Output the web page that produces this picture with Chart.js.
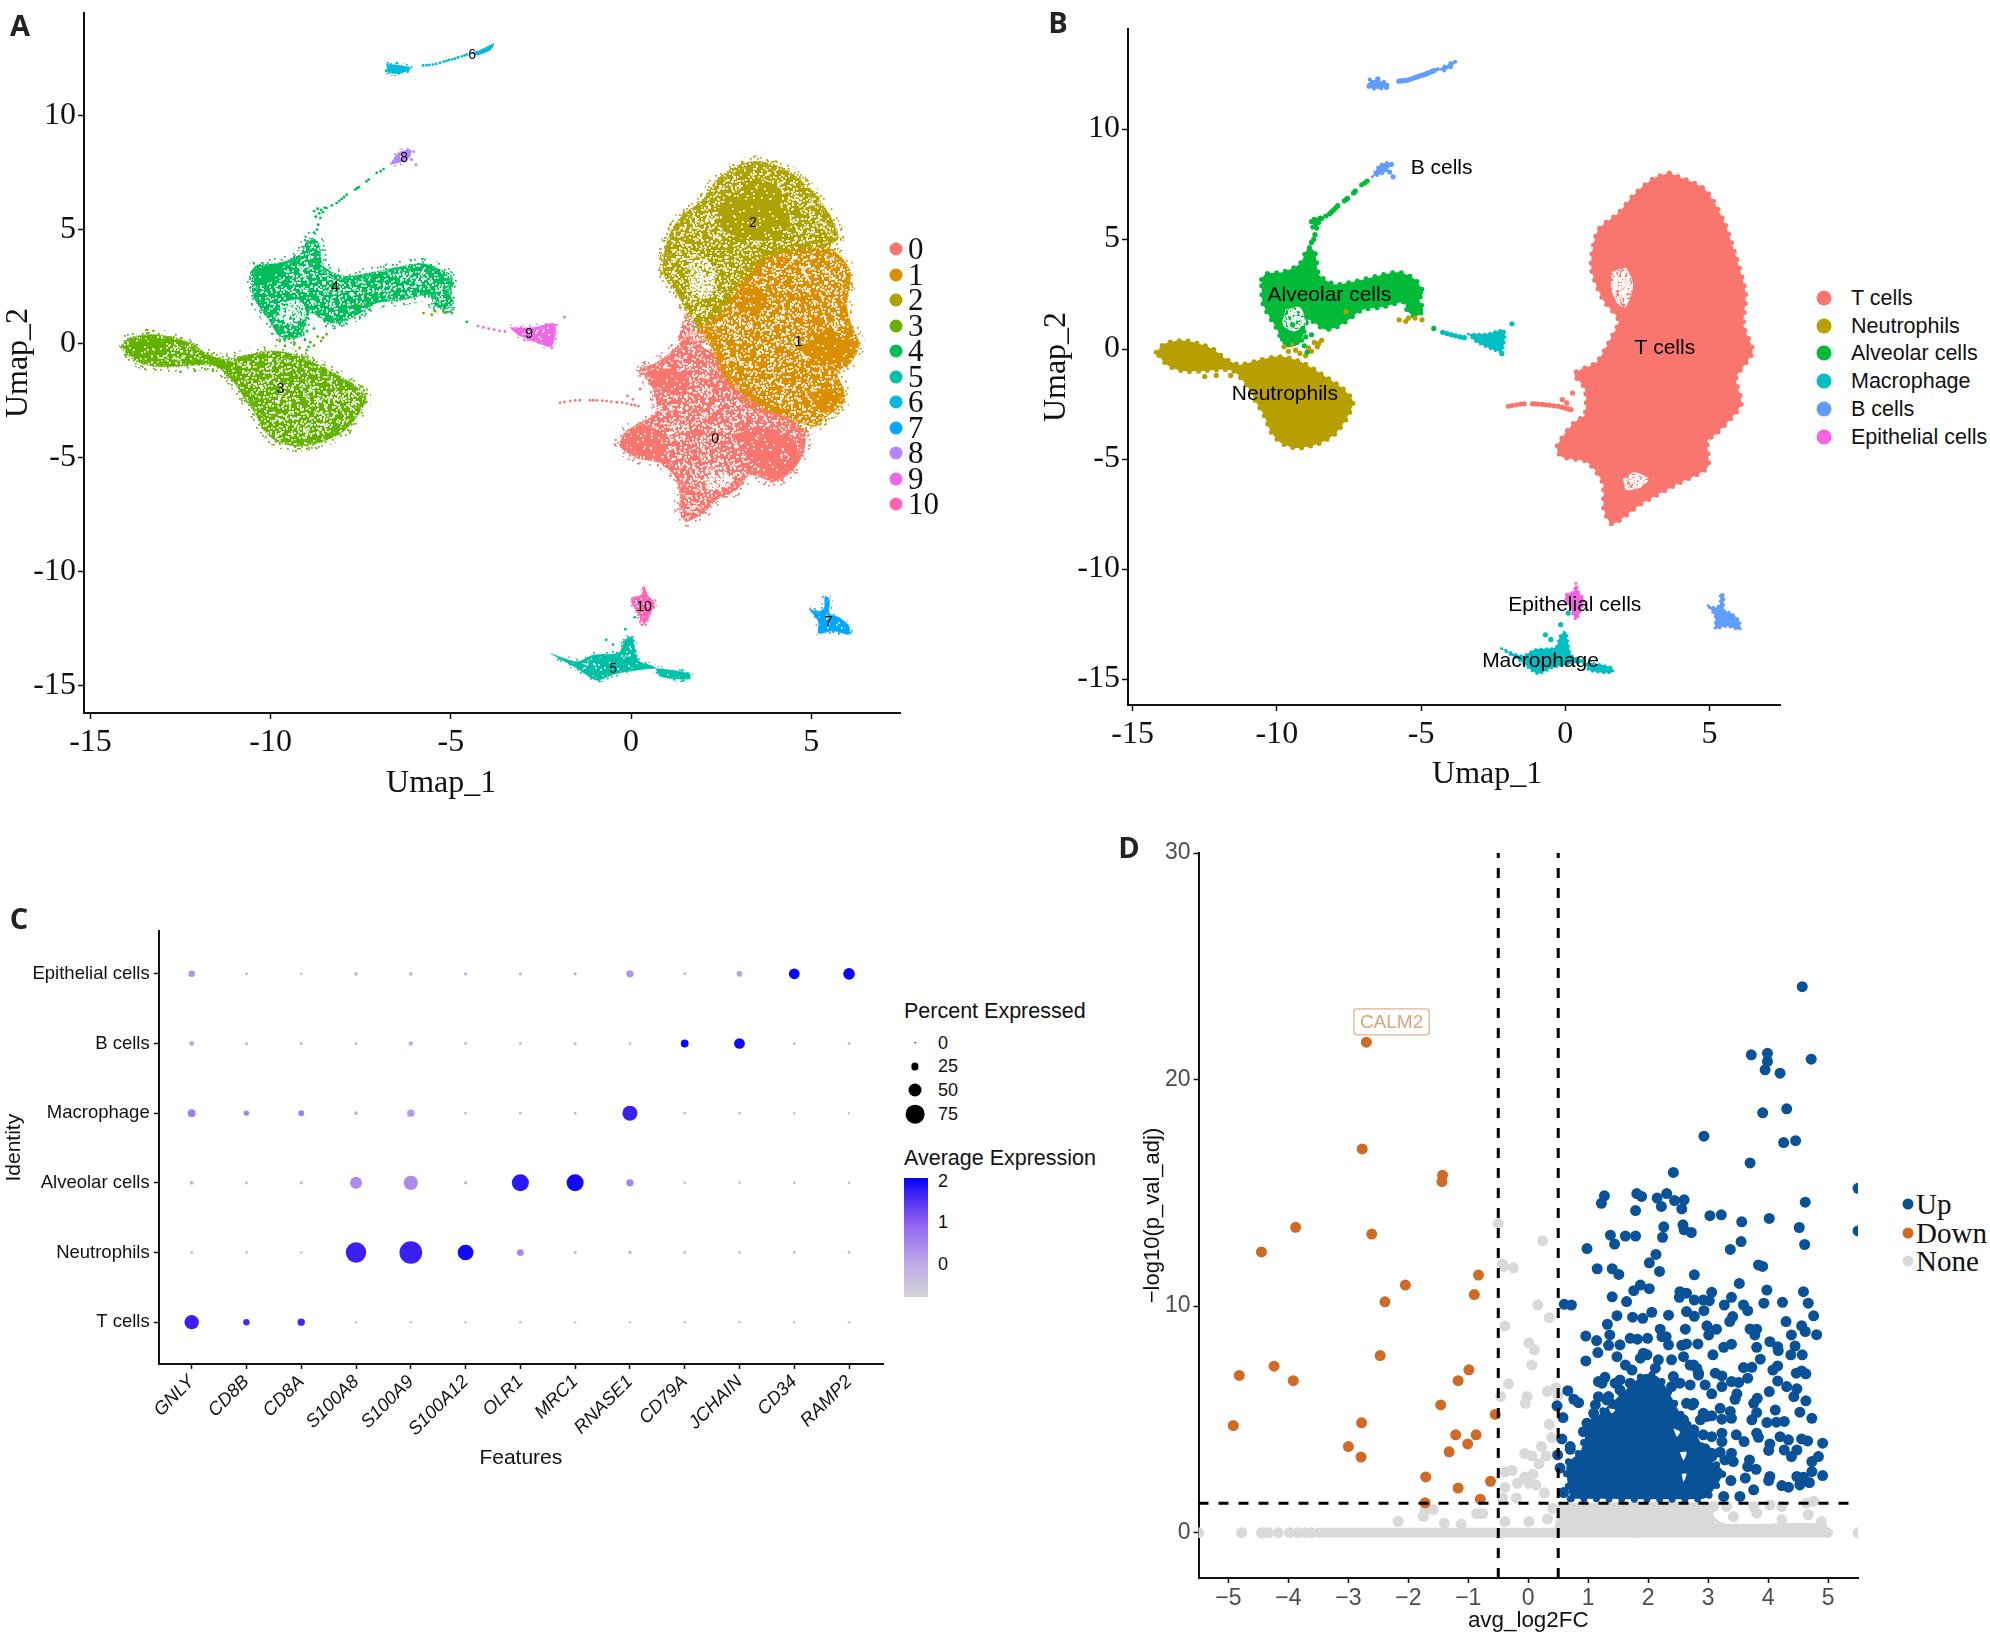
<!DOCTYPE html>
<html>
<head>
<meta charset="utf-8">
<title>scRNA panels</title>
<script src="https://cdn.jsdelivr.net/npm/chart.js@4"></script>
<style>
  body { margin: 0; background: #fff; width: 1990px; height: 1640px; position: relative; overflow: hidden; }
  canvas { position: absolute; }
  .txt { position: absolute; white-space: nowrap; line-height: 1; color: #111; transform: translateY(-50%); }
  .dot { position: absolute; border-radius: 50%; transform: translate(-50%, -50%); }
  .letter { font-family: "Open Sans", sans-serif; font-weight: 700; font-size: 29px; color: #222; transform: translate(-50%, -50%); }
</style>
</head>
<body>
<canvas id="chartA"></canvas>
<canvas id="chartB"></canvas>
<canvas id="chartC"></canvas>
<canvas id="chartD"></canvas>

<script>
const outline0 = [[1.59,0.39],[1.92,-0.12],[2.38,-0.56],[2.65,-1.58],[3.21,-2.31],[3.76,-2.9],[4.32,-3.19],[4.83,-3.92],[4.74,-4.94],[4.41,-5.67],[3.95,-6.04],[3.3,-5.75],[2.93,-6.4],[2.38,-6.84],[2.0,-7.42],[1.54,-7.79],[1.36,-7.42],[1.36,-6.55],[1.22,-5.82],[0.8,-5.23],[0.16,-5.02],[-0.31,-4.5],[-0.17,-3.92],[0.25,-3.48],[0.71,-3.04],[0.62,-2.02],[0.3,-1.15],[0.71,-0.85],[1.08,-0.42],[1.45,0.17],[1.59,0.39]];
const outline1 = [[1.87,0.82],[2.47,1.33],[2.84,2.36],[3.3,3.08],[3.76,3.8],[4.5,4.1],[5.34,4.25],[5.8,3.82],[6.08,3.09],[5.98,1.63],[6.12,0.75],[6.33,-0.05],[6.08,-0.85],[5.71,-1.29],[5.89,-2.02],[5.89,-2.6],[5.43,-3.19],[5.1,-3.63],[4.69,-3.48],[4.32,-3.19],[3.76,-2.9],[3.21,-2.31],[2.65,-1.58],[2.38,-0.56],[2.1,0.17],[1.87,0.82]];
const outline2 = [[1.59,1.34],[1.27,2.2],[0.9,3.09],[0.94,4.1],[1.13,4.98],[1.5,5.7],[2.0,6.3],[2.38,7.17],[3.02,7.83],[3.58,7.98],[4.32,7.6],[5.06,6.6],[5.52,5.57],[5.75,4.62],[5.34,4.25],[4.5,4.1],[3.76,3.8],[3.3,3.08],[2.84,2.36],[2.47,1.33],[1.87,0.82],[1.59,1.34]];
const outline3 = [[-14.18,-0.15],[-13.9,0.24],[-13.26,0.39],[-12.61,0.21],[-12.15,-0.05],[-11.82,-0.41],[-11.31,-0.71],[-10.57,-0.49],[-10.0,-0.34],[-9.56,-0.41],[-9.09,-0.63],[-8.45,-1.14],[-7.71,-1.8],[-7.36,-2.39],[-7.57,-3.12],[-7.98,-3.85],[-8.54,-4.29],[-9.28,-4.5],[-9.83,-4.29],[-10.2,-3.77],[-10.43,-3.05],[-10.76,-2.31],[-11.04,-1.66],[-11.5,-1.0],[-11.96,-0.93],[-12.61,-1.0],[-13.26,-1.0],[-13.81,-0.71],[-14.18,-0.15]];
const outline4 = [[-10.53,3.16],[-10.39,3.41],[-9.74,3.52],[-9.19,3.89],[-8.91,4.62],[-8.68,4.4],[-8.54,3.38],[-7.98,2.94],[-7.24,3.09],[-6.32,3.38],[-5.76,3.49],[-5.21,3.16],[-4.93,2.57],[-5.07,2.28],[-4.93,1.77],[-5.21,1.48],[-5.49,1.77],[-5.58,2.14],[-6.32,1.92],[-7.06,1.77],[-7.52,1.33],[-7.98,0.97],[-8.35,0.9],[-8.91,1.33],[-9.19,0.31],[-9.74,0.31],[-10.02,0.97],[-10.48,2.06],[-10.53,3.16]];
const outline5 = [[-2.21,-13.61],[-1.49,-14.25],[-0.96,-14.76],[-0.43,-14.48],[0.64,-14.25],[1.62,-14.48],[1.62,-14.71],[0.82,-14.6],[0.64,-14.18],[0.2,-13.9],[0.02,-12.87],[-0.16,-12.99],[-0.34,-13.56],[-1.05,-13.66],[-1.49,-13.95],[-2.21,-13.61]];
const outline6 = [[-6.78,12.25],[-6.39,12.18],[-6.12,12.07],[-6.39,11.84],[-6.74,11.88],[-6.78,12.25]];
const outline6b = [[-4.43,12.72],[-4.16,12.87],[-3.81,13.13],[-3.9,12.87],[-4.25,12.64],[-4.43,12.72]];
const outline7 = [[4.95,-11.66],[5.2,-11.75],[5.36,-11.6],[5.38,-11.1],[5.5,-11.2],[5.5,-11.85],[5.75,-12.0],[6.03,-12.35],[6.05,-12.75],[5.6,-12.6],[5.2,-12.7],[5.2,-12.2],[4.95,-11.66]];
const outline8 = [[-6.69,7.83],[-6.46,8.34],[-6.13,8.49],[-6.13,8.2],[-6.32,7.98],[-6.69,7.83]];
const outline9 = [[-3.36,0.69],[-2.74,0.69],[-2.12,0.85],[-2.2,-0.11],[-2.56,0],[-3.1,0.34],[-3.36,0.69]];
const outline10 = [[0.37,-10.64],[0.28,-11.03],[0.02,-11.15],[0.02,-11.38],[0.2,-11.84],[0.37,-12.3],[0.64,-11.38],[0.46,-11.05],[0.37,-10.64]];
// panel B prints clusters 0,1,2 as one T cell mass
const outlineT = [[3.61,8.0],[4.82,7.28],[5.48,5.85],[5.92,4.18],[6.25,2.51],[6.18,1.07],[6.49,-0.12],[5.92,-1.31],[6.09,-2.51],[5.26,-3.82],[4.93,-4.18],[4.93,-5.37],[3.94,-6.09],[2.62,-7.04],[1.63,-7.95],[1.34,-7.28],[1.3,-6.09],[0.75,-5.13],[-0.13,-4.89],[-0.29,-4.42],[0.31,-3.34],[0.68,-2.98],[0.68,-1.79],[0.31,-1.12],[1.08,-0.6],[1.63,0.6],[1.85,1.31],[1.3,2.27],[0.9,3.7],[1.12,5.37],[1.85,6.2],[2.4,7.04],[3.06,7.76],[3.61,8.0]];
const bridge0 = [[1.5,1.4],[1.87,0.82],[2.1,0.17],[1.92,-0.12],[1.59,0.39],[1.3,0.1],[1.5,1.4]];

// areas that print almost solid in panel A
const dense0 = [[[2.84,-4.07],[3.58,-3.63],[4.5,-4.21],[4.64,-5.23],[3.95,-5.96],[3.21,-4.94],[2.84,-4.07]],[[0.53,-1.15],[1.17,-1.15],[1.64,-1.73],[1.27,-2.31],[0.76,-1.88],[0.53,-1.15]],[[-0.31,-4.43],[0.25,-3.55],[1.08,-4.21],[0.8,-4.94],[0.06,-4.87],[-0.31,-4.43]]];
const dense1 = [[[2.93,2.06],[3.39,2.58],[3.76,1.92],[3.49,1.19],[3.02,1.48],[2.93,2.06]],[[4.69,-0.27],[5.43,0.6],[6.26,-0.05],[5.99,-0.71],[5.15,-1.0],[4.69,-0.27]],[[4.88,-2.17],[5.43,-2.02],[5.89,-2.3],[5.34,-3.04],[4.88,-2.17]]];
const dense2 = [[[2.38,5.86],[2.84,6.59],[3.58,7.17],[4.13,6.73],[4.41,5.28],[4.04,4.55],[3.21,4.55],[2.56,4.98],[2.38,5.86]]];
const dense3 = [[[-14.1,-0.15],[-13.4,0.2],[-12.7,0.05],[-13.1,-0.6],[-13.8,-0.6],[-14.1,-0.15]],[[-11.9,-0.45],[-11.3,-0.75],[-11.1,-1.2],[-11.6,-0.95],[-11.9,-0.45]]];
const dense4 = [[[-10.5,3.2],[-9.9,3.45],[-9.6,3.1],[-10,2.7],[-10.4,2.5],[-10.5,3.2]]];

// sparse bits that aren't worth an outline
const strand0 = [[-1.97,-2.6],[-1.85,-2.57],[-1.69,-2.53],[-1.55,-2.5],[-1.42,-2.49],[-1.14,-2.49],[-1.05,-2.49],[-0.95,-2.5],[-0.8,-2.51],[-0.68,-2.53],[-0.55,-2.55],[-0.4,-2.58],[-0.25,-2.6],[-0.12,-2.64],[0.0,-2.68],[0.1,-2.72],[0.2,-2.75],[-0.1,-2.3],[0.05,-2.45],[0.25,-2.0]];
const strand3 = [[-9.6,-0.1],[-9.35,-0.05],[-9.2,-0.2],[-9.0,-0.3],[-8.9,0.05],[-8.7,0.3],[-8.55,0.25],[-8.45,0.4],[-8.6,0.1],[-8.8,-0.1],[-9.75,0.1],[-9.5,0.2],[-5.76,1.33],[-5.53,1.26],[-5.44,1.41],[-5.21,1.41],[-4.97,1.33],[-7.6,1.7],[-11.6,-1.2],[-12.1,-1.2],[-12.5,-1.25]];
const strand4 = [[-9.8,0.45],[-9.6,0.2],[-9.3,0.3],[-9.05,0.15],[-9.5,0.6],[-9.25,0.7],[-9.0,0.55],[-8.8,0.65],[-9.7,0.75],[-9.45,1.1],[-9.1,0.95],[-8.95,-0.15],[-4.56,0.94],[-8.72,4.99],[-8.8,4.85],[-8.68,5.2],[-8.62,5.5],[-8.75,5.55],[-8.8,5.8],[-8.7,5.9],[-8.6,5.85],[-8.5,5.95],[-8.65,5.7],[-8.55,5.75],[-8.45,5.93],[-8.3,6.05],[-8.17,6.15],[-8.1,6.24],[-8.03,6.33],[-7.96,6.42],[-7.89,6.52],[-7.66,6.74],[-7.6,6.8],[-7.55,6.85],[-7.34,7.1],[-7.28,7.18],[-7.06,7.47],[-6.95,7.55],[-6.87,7.64]];
const strand5 = [[-0.69,-12.99],[-0.16,-12.53],[0.1,-12.0],[-0.5,-13.2],[1.1,-14.45],[1.3,-14.5]];
const strand6 = [[-5.77,12.18],[-5.68,12.19],[-5.6,12.2],[-5.5,12.22],[-5.41,12.25],[-5.3,12.3],[-5.2,12.35],[-5.12,12.38],[-5.05,12.42],[-4.96,12.45],[-4.88,12.48],[-4.8,12.53],[-4.7,12.58],[-4.62,12.62],[-4.55,12.66],[-6.8,11.95],[-6.5,12.28],[-6.2,11.9]];
const strand8 = [[-5.97,7.83],[-6.09,8.05],[-6.03,8.4]];
const strand9 = [[-4.25,0.76],[-4.1,0.7],[-3.95,0.65],[-3.8,0.6],[-3.65,0.55],[-3.5,0.52],[-1.85,1.15],[-2.2,-0.2],[-2.3,0.1]];

// sparse patches inside the clouds
const gapAreas = [[[1.6,3.5],[2.1,3.7],[2.35,2.9],[2.1,1.9],[1.8,2.1],[1.6,2.7],[1.6,3.5]],[[2.0,-5.9],[2.4,-5.6],[2.9,-5.9],[2.6,-6.3],[2.1,-6.4],[2.0,-5.9]],[[-9.7,1.8],[-9.2,1.9],[-9.0,1.2],[-9.4,0.8],[-9.8,1.1],[-9.7,1.8]]];
const gapOwners = [2,0,4];

const clusterNames = ['0','1','2','3','4','5','6','7','8','9','10'];
const clusterColors = ['#F8766D','#DB8E00','#AEA200','#64B200','#00BD5C','#00C1A7','#00BADE','#00A6FF','#B385FF','#EF67EB','#FF63B6'];
const clusterLabelX = [2.33,4.64,3.38,-9.73,-8.22,-0.5,-4.41,5.48,-6.3,-2.83,0.36];
const clusterLabelY = [-4.16,0.11,5.31,-1.95,2.53,-14.25,12.67,-12.18,8.16,0.46,-11.52];

const cellTypes = ['T cells','Neutrophils','Alveolar cells','Macrophage','B cells','Epithelial cells'];
const cellColors = ['#F8766D','#B79F00','#00BA38','#00BFC4','#619CFF','#F564E3'];
const cellOfCluster = [0,0,0,1,2,3,4,4,4,3,5];
const cellLabelX = [3.45,-9.72,-8.18,-0.86,-4.29,0.33];
const cellLabelY = [0.09,-1.99,2.5,-14.14,8.27,-11.58];

const umapTicksX = [-15,-10,-5,0,5];
const umapTicksY = [-15,-10,-5,0,5,10];

// panel C
const features = ['GNLY','CD8B','CD8A','S100A8','S100A9','S100A12','OLR1','MRC1','RNASE1','CD79A','JCHAIN','CD34','RAMP2'];
const identities = ['T cells','Neutrophils','Alveolar cells','Macrophage','B cells','Epithelial cells'];
const pctTcells      = [53,18,22,1,1,1,1,1,1,1,1,1,1];
const pctNeutrophils = [3,2,1,80,90,59,19,3,4,2,2,2,2];
const pctAlveolar    = [7,3,4,43,53,4,65,65,22,2,2,1,1];
const pctMacrophage  = [24,13,15,6,22,2,2,2,56,2,2,1,1];
const pctBcells      = [11,3,3,3,9,2,2,3,2,24,37,2,2];
const pctEpithelial  = [18,3,1,6,6,4,3,4,22,3,15,37,41];
const exprTcells      = [1.7,1.6,1.6,-0.4,-0.4,-0.4,-0.4,-0.4,-0.4,-0.4,-0.4,-0.4,-0.4];
const exprNeutrophils = [-0.3,-0.4,-0.4,1.7,1.7,1.95,0.5,-0.2,0,-0.3,-0.3,-0.3,-0.3];
const exprAlveolar    = [-0.2,-0.2,-0.2,0.4,0.4,-0.1,1.8,1.95,0.5,-0.3,-0.3,-0.3,-0.3];
const exprMacrophage  = [0.6,0.5,0.6,-0.1,0.2,-0.2,-0.2,-0.2,1.7,-0.3,-0.3,-0.4,-0.4];
const exprBcells      = [0,-0.2,-0.2,-0.2,0,-0.2,-0.3,-0.2,-0.3,2,1.95,-0.3,-0.3];
const exprEpithelial  = [0.3,-0.3,-0.4,-0.1,-0.1,-0.1,-0.2,-0.1,0.3,-0.2,0.1,2,2];
const pctRows = [pctTcells,pctNeutrophils,pctAlveolar,pctMacrophage,pctBcells,pctEpithelial];
const exprRows = [exprTcells,exprNeutrophils,exprAlveolar,exprMacrophage,exprBcells,exprEpithelial];
const pctLegend = [0,25,50,75];
const exprRampStops = [[-0.8,[211,211,211]],[0,[190,170,232]],[1,[140,95,240]],[1.7,[58,32,245]],[2.05,[0,0,255]]];

// panel D
const downPoints = [[-2.7,21.65],[-2.77,16.94],[-1.43,15.78],[-1.44,15.5],[-3.88,13.48],[-2.61,13.18],[-4.45,12.39],[-0.83,11.37],[-2.05,10.93],[-0.9,10.51],[-2.39,10.19],[-2.47,7.82],[-4.24,7.35],[-0.99,7.19],[-4.82,6.94],[-3.92,6.71],[-1.17,6.71],[-1.46,5.64],[-0.55,5.22],[-2.78,4.85],[-4.92,4.73],[-1.21,4.32],[-0.87,4.32],[-1.01,3.92],[-3.0,3.8],[-1.32,3.57],[-2.79,3.34],[-1.71,2.46],[-0.63,2.27],[-1.17,1.97],[-0.8,1.48],[-1.72,1.32]];
const upPoints = [[4.57,24.1],[3.72,21.09],[3.99,21.16],[3.99,20.8],[4.72,20.9],[3.95,20.43],[4.2,20.28],[4.31,18.71],[3.91,18.53],[2.93,17.5],[4.46,17.3],[4.26,17.22],[3.7,16.32],[2.42,15.9],[5.5,15.2],[1.27,14.87],[1.22,14.54],[1.81,14.97],[1.89,14.84],[2.31,14.97],[2.15,14.77],[2.22,14.4],[2.44,14.66],[2.6,14.69],[2.56,14.29],[1.79,14.22],[4.62,14.59],[3.03,13.99],[3.22,14.03],[3.56,13.72],[4.02,13.87],[4.52,13.47],[5.5,13.32],[2.58,13.59],[2.26,13.5],[2.6,13.37],[2.72,13.25],[2.24,13.04],[1.37,13.13],[1.62,13.09],[1.79,13.09],[1.44,12.74],[0.98,12.54],[3.55,12.85],[3.37,12.5],[4.61,12.72],[2.13,12.28],[2.02,11.91],[1.15,11.65],[1.4,11.65],[1.51,11.4],[2.19,11.53],[2.77,11.38],[3.84,11.82],[3.91,11.75],
  [3.52,11.0],[3.98,10.71],[4.59,10.64],[1.87,10.93],[2.02,10.77],[1.76,10.68],[2.53,10.64],[2.64,10.57],[3.06,10.61],[1.4,10.41],[2.52,10.39],[3.39,10.39],[1.64,10.2],[2.77,10.27],[2.92,10.27],[3.02,10.24],[3.93,10.13],[4.24,10.17],[4.67,10.13],[3.27,10.05],[3.59,10.05],[0.6,10.08],[0.72,10.05],[2.93,9.8],[3.66,9.8],[2.64,9.76],[1.48,9.58],[1.74,9.51],[1.91,9.46],[2.06,9.73],[2.34,9.6],[2.77,9.55],[3.41,9.54],[3.36,9.32],[4.76,9.57],[4.3,9.32],[4.56,9.13],[1.32,9.2],[2.2,8.98],[2.62,8.98],[2.98,9.13],[3.14,8.98],[3.7,8.99],[3.81,8.98],[4.62,8.88],[0.96,8.68],[1.36,8.73],[1.7,8.58],[1.82,8.54],[1.99,8.58],[2.23,8.65],[2.3,8.65],[3.01,8.73],[3.78,8.73],[4.39,8.73],[4.81,8.74],[1.14,8.48],[1.34,8.27],[1.53,8.29],[2.34,8.29],[2.56,8.27],[2.64,8.33],[2.83,8.33],[3.39,8.32],[3.26,8.18],[4.03,8.43],[4.16,8.21],[4.45,8.24],[3.81,8.18],[1.16,7.95],[3.08,7.85],[4.17,8.04],[4.38,7.85],[4.57,7.85],[1.92,7.92],[0.96,7.58],[3.87,7.66],[1.48,7.77],[1.87,7.7],[2.17,7.63],[2.39,7.63],[2.59,7.77],[2.76,7.4],[2.84,7.04],
  [3.59,7.29],[3.73,7.3],[4.16,7.36],[4.08,7.18],[4.47,7.04],[4.56,7.14],[4.63,7.01],[3.12,7.04],[3.23,6.92],[3.66,6.82],[4.16,6.7],[3.39,6.67],[3.51,6.63],[3.23,6.45],[2.95,6.52],[4.31,6.45],[4.48,6.35],[4.02,6.23],[4.43,6.01],[3.06,6.13],[3.48,6.13],[3.45,5.89],[3.82,5.93],[4.63,5.82],[3.76,5.71],[2.76,5.71],[4.12,5.41],[4.53,5.32],[4.73,5.05],[3.2,5.49],[3.37,5.35],[3.81,5.3],[2.92,5.27],[3.06,5.16],[3.39,5.05],[3.73,4.98],[3.23,5.01],[3.98,4.86],[4.14,4.88],[4.27,4.91],[2.87,4.98],[3.81,4.39],[3.23,4.39],[3.47,4.32],[3.06,4.24],[3.6,4.02],[3.84,4.21],[4.2,4.24],[4.34,4.1],[4.56,4.14],[4.66,4.05],[4.91,3.95],[4.03,3.92],[4.01,3.63],[4.27,3.65],[4.48,3.65],[4.39,3.36],[3.39,3.51],[3.06,3.51],[4.84,3.36],[3.69,3.21],[4.73,3.14],[3.42,3.14],[3.8,2.8],[3.66,2.92],[4.73,2.7],[4.03,2.48],[4.01,2.3],[3.62,2.41],[4.48,2.48],[4.59,2.45],[4.91,2.52],[4.53,2.11],[4.69,2.21],[3.38,2.3],[4.23,2.08],[4.34,2.01],[3.76,1.89],[3.53,1.6],[3.26,1.6],
  [1.01,4.54],[0.92,4.46],[0.56,4.14],[0.49,3.43],[0.7,3.68],[1.17,6.0],[1.28,6.86],[1.23,6.6],[0.84,5.74],[0.76,5.89],[0.66,6.27],[0.48,5.6],[0.58,5.08],[0.53,2.85],[0.59,1.77],
  [1.17,6.67],[1.62,7.4],[1.73,7.18],[1.98,7.85],[2.12,7.26],[2.42,6.89],[2.7,7.4],[2.81,7.26],[2.84,6.96],[2.53,6.6],[2.7,6.52],[2.39,6.45],[1.53,6.74],[1.45,6.6],[1.7,6.6],[1.53,6.3],[1.31,5.86],[2.34,5.71],[2.64,5.71],[2.73,5.64],[2.59,4.98],[2.42,5.13],[2.98,5.13],[2.76,4.54],[2.92,4.32],[2.62,4.76],[1.09,5.27],[1.12,5.64],[1.34,6.01],[0.98,4.83],[0.7,3.8],[3.23,4.02],[3.06,3.36],[3.28,3.21],[1.05,4.3],[1.25,4.75],[2.95,3.7],[3.2,3.55]];
// the heap of overlapping up-regulated genes
const upHeap = [[0.7,1.5],[0.64,3.0],[0.87,3.6],[1.0,4.6],[1.25,5.4],[1.5,6.0],[1.75,6.6],[1.95,7.0],[2.15,6.9],[2.3,6.4],[2.55,5.2],[2.85,4.1],[2.95,3.4],[3.25,2.7],[3.05,1.75],[2.92,1.5],[0.7,1.5]];
const upHeapGaps = [[[2.53,3.55],[2.64,3.55],[2.59,3.2],[2.53,3.55]],[[2.56,2.6],[2.64,2.6],[2.59,2.25],[2.56,2.6]],[[2.42,4.61],[2.53,4.46],[2.48,4.24],[2.42,4.61]],[[1.34,5.49],[1.45,5.42],[1.39,5.27],[1.34,5.49]]];
const nonePoints = [[-5.5,0],[-4.78,0],[-4.45,0],[-4.4,0],[-4.33,0],[-4.17,0],[-3.98,0],[-3.84,0],[-3.72,0],[-3.62,0],[5.5,0],[-0.5,13.64],[0.24,12.88],[-0.43,11.86],[-0.25,11.69],[-0.41,11.74],[0.16,10.05],[0.35,9.49],[-0.39,9.12],[0.01,8.38],[0.1,8.07],[0.06,7.4],[-0.33,6.57],[0.32,6.24],[0.46,6.4],[-0.46,6.01],[-0.02,6.01],[-0.05,5.71],[0.5,6.06],[0.35,4.78],[0.39,4.2],[0.22,3.8],[-0.06,3.5],[0.06,3.39],[0.3,3.39],[0.18,3.04],[-0.39,2.69],[-0.27,2.74],[-0.06,2.46],[0.08,2.58],[-0.18,2.18],[0.01,2.18],[0.13,2.11],[0.27,1.76],[-0.39,2.0],[-0.2,1.53],[-0.43,1.53],[-0.86,0.84],[-0.76,0.84],[-1.75,0.72],[-1.59,1.02],[-1.72,1.02],[-2.17,0.49],[-1.4,0.42],[-1.12,0.37],[0.01,0.49],[-0.39,0.49],[0.32,0.6],[0.41,1.07],[4.03,1.23],[4.23,1.16],[4.64,1.3],[4.76,1.38],[4.67,0.79],[4.89,0.49],[4.23,0.57],[3.81,0.86],[3.31,1.16],[3.09,1.16],[3.76,1.16],[3.42,0.71]];
const noneBand = [[0.5,1.3],[3.05,1.3],[3.1,0.7],[3.3,0.4],[4.95,0.4],[5.0,0],[0.5,0],[0.5,1.3]];
const noneBaseline = [[-3.5,0],[5,0]];
const logFcCuts = [-0.5,0.5];
const pValCut = 1.3;
const volcanoTicksX = [-5,-4,-3,-2,-1,0,1,2,3,4,5];
const volcanoTicksY = [0,10,20,30];
const volcanoLegend = ['Up','Down','None'];
const volcanoColors = ['#0A5298','#CF6A27','#D9D9D9'];

const SERIF = '"Liberation Serif", serif';
const SANS = '"Liberation Sans", Arial, sans-serif';

function xy(list) { return list.map(p => ({ x: p[0], y: p[1] })); }

// texture only: a fixed speckle tile, so the clouds read as thousands of tiny dots.
// clear=true gives coloured specks on nothing, used to fuzz the cloud edges
function stipple(color, flecks, clear) {
  const size = 251;
  const c = document.createElement('canvas');
  c.width = size; c.height = size;
  const g = c.getContext('2d');
  if (!clear) {
    g.fillStyle = color;
    g.fillRect(0, 0, size, size);
  }
  g.fillStyle = clear ? color : '#fff';
  let s = 20231;
  const next = () => {
    s = (s + 0x6D2B79F5) | 0;
    let t = Math.imul(s ^ (s >>> 15), 1 | s);
    t = (t + Math.imul(t ^ (t >>> 7), 61 | t)) ^ t;
    return ((t ^ (t >>> 14)) >>> 0) % size;
  };
  for (let i = 0; i < flecks; i++) {
    g.fillRect(next(), next(), 1.7, 1.7);
  }
  return g.createPattern(c, 'repeat');
}

function region(points, fill, edge, edgeWidth) {
  return {
    data: xy(points), showLine: true, fill: 'shape', backgroundColor: fill,
    borderColor: edge, borderWidth: edgeWidth, borderDash: [0, edgeWidth * 1.8], borderCapStyle: 'round',
    tension: 0.25, pointRadius: 0
  };
}
function fuzz(points, color, width) {
  return {
    data: xy(points), showLine: true, fill: false, borderColor: stipple(color, 3500, true),
    borderWidth: width, tension: 0.25, pointRadius: 0
  };
}
function dots(points, color, r) {
  return { data: xy(points), backgroundColor: color, pointRadius: r, pointBorderWidth: 0, showLine: false };
}

// free text placed in data coordinates
function textPlugin(items) {
  return {
    id: 'panelText',
    afterDatasetsDraw(chart) {
      const ctx = chart.ctx;
      items.forEach(t => {
        const px = chart.scales.x.getPixelForValue(t.x);
        const py = chart.scales.y.getPixelForValue(t.y);
        ctx.save();
        ctx.font = t.font;
        ctx.fillStyle = t.color || '#000';
        ctx.textAlign = 'center';
        ctx.textBaseline = 'middle';
        if (t.box) {
          const w = ctx.measureText(t.text).width + 12;
          ctx.fillStyle = '#fff';
          ctx.strokeStyle = t.box;
          ctx.lineWidth = 1.3;
          ctx.beginPath();
          ctx.roundRect(px - w / 2, py - 13, w, 26, 3);
          ctx.fill();
          ctx.stroke();
          ctx.fillStyle = t.color;
        }
        ctx.fillText(t.text, px, py + 1);
        ctx.restore();
      });
    }
  };
}

function axis(min, max, values, cfg) {
  return {
    type: 'linear', min, max,
    afterBuildTicks(s) { s.ticks = values.map(v => ({ value: v })); },
    afterFit(s) {
      // pin the plot box, labels shouldn't push it around
      s.paddingTop = s.paddingBottom = s.paddingLeft = s.paddingRight = 0;
      if (cfg.width) s.width = cfg.width;
      if (cfg.height) s.height = cfg.height;
    },
    border: { color: cfg.line || '#111', width: cfg.lineWidth || 2 },
    grid: { drawOnChartArea: false, tickLength: cfg.tickLen || 6, tickColor: cfg.line || '#111', tickWidth: 1.5 },
    ticks: {
      autoSkip: false, includeBounds: false, padding: cfg.pad, color: cfg.color || '#111',
      font: cfg.font, maxRotation: cfg.rot || 0, minRotation: cfg.rot || 0,
      callback: cfg.fmt || (v => String(v))
    },
    title: cfg.title ? {
      display: true, text: cfg.title, color: '#111', font: cfg.titleFont,
      padding: { top: cfg.titlePad || 0, bottom: 0 }
    } : { display: false }
  };
}

function panel(id, rect, plot, datasets, xScale, yScale, items, type) {
  const el = document.getElementById(id);
  el.width = rect.r - rect.l;
  el.height = rect.b - rect.t;
  el.style.left = rect.l + 'px';
  el.style.top = rect.t + 'px';
  el.style.width = el.width + 'px';
  el.style.height = el.height + 'px';
  datasets.forEach((d, i) => { d.order = datasets.length - i; });
  return new Chart(el, {
    type: type || 'scatter',
    data: { datasets },
    plugins: [textPlugin(items || [])],
    options: {
      responsive: false, animation: false,
      layout: { padding: { top: plot.t - rect.t, right: rect.r - plot.r, left: 0, bottom: 0 } },
      plugins: { legend: { display: false }, tooltip: { enabled: false } },
      scales: { x: xScale, y: yScale }
    }
  });
}

const outlines = [outline0, outline1, outline2, outline3, outline4, outline5, [], outline7, outline8, outline9, outline10];
const strands = [strand0, [], [], strand3, strand4, strand5, strand6, [], strand8, strand9, []];
const denseAreas = [dense0, dense1, dense2, dense3, dense4];
const drawnClusters = [0, 1, 2, 3, 4, 5, 7, 8, 9, 10];

// ---- panel A
const setA = [];
setA.push(region(bridge0, stipple(clusterColors[0], 16000), 'rgba(255,255,255,0)', 0));
drawnClusters.forEach(c => {
  const col = clusterColors[c];
  setA.push(region(outlines[c], stipple(col, c < 5 ? 7500 : 2000), col, c < 5 ? 1.6 : 1.2));
  if (denseAreas[c]) denseAreas[c].forEach(a => setA.push(region(a, stipple(col, 1100), 'rgba(255,255,255,0)', 0)));
});
setA.push(region(outline6, stipple(clusterColors[6], 2000), clusterColors[6], 1.2));
setA.push(region(outline6b, clusterColors[6], clusterColors[6], 1.2));
drawnClusters.forEach(c => setA.push(fuzz(outlines[c], clusterColors[c], c < 5 ? 12 : 6)));
setA.push(fuzz(outline6, clusterColors[6], 5));
gapAreas.forEach((a, i) => setA.push(region(a, stipple(clusterColors[gapOwners[i]], 26000), 'rgba(255,255,255,0)', 0)));
strands.forEach((s, c) => { if (s.length) setA.push(dots(s, clusterColors[c], 1.4)); });

const labelsA = clusterNames.map((n, i) => ({ text: n, x: clusterLabelX[i], y: clusterLabelY[i], font: '14px ' + SANS }));
labelsA.push({ text: 'Umap_1', x: -5.27, y: -19.23, font: '32px ' + SERIF, color: '#111' });
const tickFontSerif = { family: SERIF, size: 32 };
panel('chartA', { l: 0, t: 0, r: 960, b: 800 }, { t: 13, r: 900 }, setA,
  axis(-15.18, 7.46, umapTicksX, { height: 87, pad: 4, font: tickFontSerif }),
  axis(-16.2, 14.48, umapTicksY, { width: 84, pad: 2, font: tickFontSerif, title: 'Umap_2', titleFont: { family: SERIF, size: 32, lineHeight: 1 }, titlePad: 3 }),
  labelsA);

// ---- panel B
const setB = [region(outlineT, cellColors[0], cellColors[0], 5)];
[3, 4, 5, 7, 8, 9, 10].forEach(c => {
  const col = cellColors[cellOfCluster[c]];
  setB.push(region(outlines[c], col, col, c < 5 ? 5 : 3));
});
setB.push(region(outline6, cellColors[4], cellColors[4], 4));
setB.push(region(outline6b, cellColors[4], cellColors[4], 4));
gapAreas.forEach((a, i) => setB.push(region(a, stipple(cellColors[cellOfCluster[gapOwners[i]]], 30000), 'rgba(255,255,255,0)', 0)));
strands.forEach((s, c) => { if (s.length) setB.push(dots(s, cellColors[cellOfCluster[c]], 2.6)); });

const labelsB = cellTypes.map((n, i) => ({ text: n, x: cellLabelX[i], y: cellLabelY[i], font: '21px ' + SANS }));
labelsB.push({ text: 'Umap_1', x: -2.71, y: -19.29, font: '32px ' + SERIF, color: '#111' });
panel('chartB', { l: 1035, t: 0, r: 1800, b: 800 }, { t: 29, r: 1780.5 }, setB,
  axis(-15.16, 7.46, umapTicksX, { height: 95, pad: 4, font: tickFontSerif }),
  axis(-16.18, 14.55, umapTicksY, { width: 93, pad: 2, font: tickFontSerif, title: 'Umap_2', titleFont: { family: SERIF, size: 32, lineHeight: 1 }, titlePad: 6 }),
  labelsB);

// ---- panel C
function exprColor(v) {
  for (let i = 1; i < exprRampStops.length; i++) {
    const [v1, c1] = exprRampStops[i];
    const [v0, c0] = exprRampStops[i - 1];
    if (v <= v1) {
      const t = (v - v0) / (v1 - v0);
      return `rgb(${c0.map((ch, k) => Math.round(ch + (c1[k] - ch) * t)).join(',')})`;
    }
  }
  return 'rgb(0,0,255)';
}
function pctRadius(p) { return (2.4 + 0.225 * p) / 2; }

const dotData = [];
const dotColors = [];
identities.forEach((name, row) => {
  features.forEach((gene, col) => {
    dotData.push({ x: col, y: row, r: pctRadius(pctRows[row][col]) });
    dotColors.push(exprColor(exprRows[row][col]));
  });
});
const labelFontC = { family: SANS, size: 18.5 };
panel('chartC', { l: 0, t: 920, r: 895, b: 1469 }, { t: 931, r: 883 },
  [{ data: dotData, backgroundColor: dotColors, borderWidth: 0 }],
  axis(-0.602, 12.62, features.map((f, i) => i), {
    height: 105, pad: 2, rot: 45, tickLen: 5, font: { family: SANS, size: 18.5, style: 'italic' }, fmt: v => features[v],
    title: 'Features', titleFont: { family: SANS, size: 21, lineHeight: 1 }
  }),
  axis(-0.6, 5.61, identities.map((f, i) => i), {
    width: 158.7, pad: 4, tickLen: 5, font: labelFontC, fmt: v => identities[v],
    title: 'Identity', titleFont: { family: SANS, size: 21, lineHeight: 1 }, titlePad: 3.5
  }),
  [], 'bubble');

// ---- panel D
const setD = [
  { data: xy(noneBaseline), showLine: true, borderColor: volcanoColors[2], borderWidth: 10, borderCapStyle: 'round', pointRadius: 0 },
  region(noneBand, volcanoColors[2], volcanoColors[2], 0),
  dots(nonePoints, volcanoColors[2], 5.5),
  region(upHeap, volcanoColors[0], volcanoColors[0], 7)
];
upHeapGaps.forEach(g => setD.push(region(g, '#fff', 'rgba(255,255,255,0)', 0)));
setD.push(dots(upPoints, volcanoColors[0], 5.5));
setD.push(dots(downPoints, volcanoColors[1], 5.5));
const dashLine = pts => ({ data: xy(pts), showLine: true, borderColor: '#000', borderWidth: 3, borderDash: [10, 10], pointRadius: 0 });
logFcCuts.forEach(c => setD.push(dashLine([[c, -2], [c, 30]])));
setD.push(dashLine([[-5.5, pValCut], [5.5, pValCut]]));
const minusFmt = v => String(v).replace('-', '\u2212');
const tickFontD = { family: SANS, size: 23 };
panel('chartD', { l: 1120, t: 840, r: 1875, b: 1632 }, { t: 853, r: 1858 }, setD,
  axis(-5.5, 5.5, volcanoTicksX, {
    height: 54, pad: 2, tickLen: 5, color: '#4d4d4d', font: tickFontD, fmt: minusFmt,
    title: 'avg_log2FC', titleFont: { family: SANS, size: 22.4, lineHeight: 1 }
  }),
  axis(-2, 30, volcanoTicksY, {
    width: 78.5, pad: 3, tickLen: 5, color: '#4d4d4d', font: tickFontD,
    title: '\u2212log10(p_val_adj)', titleFont: { family: SANS, size: 22, lineHeight: 1 }, titlePad: 21.5
  }),
  [{ text: 'CALM2', x: -2.28, y: 22.55, font: '19px ' + SANS, color: '#DDA379', box: '#E3B08C' }]);

// ---- everything around the plots
function put(text, x, y, css, cls) {
  const d = document.createElement('div');
  d.className = cls || 'txt';
  d.textContent = text;
  d.style.left = x + 'px';
  d.style.top = y + 'px';
  d.style.cssText += css || '';
  document.body.appendChild(d);
  return d;
}
function dot(x, y, size, color) {
  const d = document.createElement('div');
  d.className = 'dot';
  d.style.cssText = `left:${x}px;top:${y}px;width:${size}px;height:${size}px;background:${color}`;
  document.body.appendChild(d);
}

put('A', 20, 24, '', 'txt letter');
put('B', 1058, 21, '', 'txt letter');
put('C', 19, 917, '', 'txt letter');
put('D', 1129, 846, '', 'txt letter');

clusterNames.forEach((n, i) => {
  const y = 249 + i * 25.5;
  dot(896, y, 13, clusterColors[i]);
  put(n, 908, y, `font:31px ${SERIF}`);
});
cellTypes.forEach((n, i) => {
  const y = 297.6 + i * 27.9;
  dot(1824, y, 15, cellColors[i]);
  put(n, 1851, y, `font:21.5px ${SANS}`);
});

put('Percent Expressed', 904, 1011, `font:21.5px ${SANS}`);
pctLegend.forEach((p, i) => {
  const y = 1042.7 + i * 23.7;
  dot(915, y, 1.5 + 0.23 * p, '#000');
  put(String(p), 938, y, `font:18px ${SANS}`);
});
put('Average Expression', 904, 1158, `font:21.5px ${SANS}`);
const bar = document.createElement('div');
const rampCss = exprRampStops.slice().reverse().map(s => `rgb(${s[1].join(',')}) ${((2.05 - s[0]) / 2.85 * 100).toFixed(1)}%`).join(',');
bar.style.cssText = `position:absolute;left:904px;top:1178px;width:23.5px;height:118.5px;background:linear-gradient(to bottom,${rampCss})`;
document.body.appendChild(bar);
[2, 1, 0].forEach((v, i) => put(String(v), 938, 1180.8 + i * 41.6, `font:18px ${SANS}`));

volcanoLegend.forEach((n, i) => {
  const y = 1204 + i * 28.5;
  dot(1908, y, 11, volcanoColors[i]);
  put(n, 1916, y, `font:29px ${SERIF}`);
});
</script>
</body>
</html>
